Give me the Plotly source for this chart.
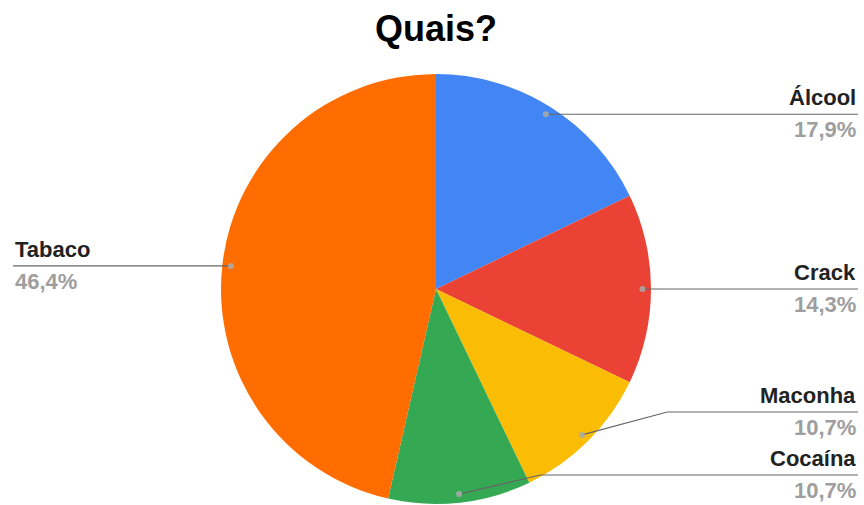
import math
import plotly.graph_objects as go

# Answers to "Quais?" (count of responses per substance)
labels = ["Álcool", "Crack", "Maconha", "Cocaína", "Tabaco"]
counts = [5, 4, 3, 3, 13]
colors = ["#4285F4", "#EA4335", "#FBBC04", "#34A853", "#FF6D01"]

W, H = 864, 505
CX, CY, R = 436, 289, 215          # pie centre and radius in pixels
DOT_R = 0.96                        # leader dot position, fraction of radius
RIGHT_X, LEFT_X = 858, 13           # text columns
ROW_GAP, BOTTOM_ROW = 63, 475       # label row spacing and lowest row allowed

FONT = "Liberation Sans, Arial, sans-serif"


def px(x):
    return x / W


def py(y):
    return 1 - y / H


def pct_text(v, total):
    return f"{100 * v / total:.1f}".replace(".", ",") + "%"


total = sum(counts)

# Angle of each slice midpoint, clockwise from 12 o'clock
mids = []
acc = 0
for v in counts:
    mids.append(2 * math.pi * (acc + v / 2) / total)
    acc += v

dots = [(CX + DOT_R * R * math.sin(a), CY - DOT_R * R * math.cos(a)) for a in mids]
sides = ["right" if math.sin(a) >= 0 else "left" for a in mids]

# Row (line) position of every label; right-hand labels are pushed up
# from the bottom so they keep a minimum spacing
rows = [d[1] for d in dots]
right_idx = sorted([i for i, s in enumerate(sides) if s == "right"], key=lambda i: rows[i], reverse=True)
limit = BOTTOM_ROW
for i in right_idx:
    rows[i] = min(rows[i], limit)
    limit = rows[i] - ROW_GAP

fig = go.Figure(
    go.Pie(
        labels=labels,
        values=counts,
        marker=dict(colors=colors, line=dict(width=0)),
        sort=False,
        direction="clockwise",
        rotation=0,
        textinfo="none",
        hoverinfo="label+percent",
        showlegend=False,
        domain=dict(x=[px(CX - R), px(CX + R)], y=[py(CY + R), py(CY - R)]),
    )
)

shapes = []
annotations = [
    dict(
        text="<b>Quais?</b>", x=px(CX), y=py(28), xref="paper", yref="paper",
        xanchor="center", yanchor="middle", showarrow=False,
        font=dict(family=FONT, size=36, color="#000000"),
    )
]

for i, lab in enumerate(labels):
    dx, dy = dots[i]
    row = rows[i]
    side = sides[i]
    end_x = RIGHT_X if side == "right" else LEFT_X
    if abs(row - dy) < 0.5:
        path = f"M {px(dx)} {py(dy)} L {px(end_x)} {py(dy)}"
    else:
        elbow_x = dx + 1.1 * abs(row - dy) + 60 if side == "right" else dx - 1.1 * abs(row - dy) - 60
        path = f"M {px(dx)} {py(dy)} L {px(elbow_x)} {py(row)} L {px(end_x)} {py(row)}"
    shapes.append(dict(type="path", path=path, xref="paper", yref="paper",
                       line=dict(color="#666666", width=1.2)))
    shapes.append(dict(type="circle", xref="paper", yref="paper",
                       x0=px(dx - 3), x1=px(dx + 3), y0=py(dy + 3), y1=py(dy - 3),
                       fillcolor="rgba(170,170,170,0.85)", line=dict(width=0)))
    anchor = "right" if side == "right" else "left"
    annotations.append(dict(
        text=f"<b>{lab}</b>", x=px(end_x), y=py(row), xref="paper", yref="paper",
        xanchor=anchor, yanchor="bottom", yshift=2, showarrow=False,
        font=dict(family=FONT, size=22, color="#222222"),
    ))
    annotations.append(dict(
        text=f"<b>{pct_text(counts[i], total)}</b>", x=px(end_x), y=py(row),
        xref="paper", yref="paper", xanchor=anchor, yanchor="top", yshift=-1,
        showarrow=False, font=dict(family=FONT, size=22, color="#9e9e9e"),
    ))

fig.update_layout(
    width=W, height=H,
    margin=dict(l=0, r=0, t=0, b=0),
    paper_bgcolor="#ffffff",
    plot_bgcolor="#ffffff",
    shapes=shapes,
    annotations=annotations,
)

fig.write_html("out.html", config={"displayModeBar": False})
